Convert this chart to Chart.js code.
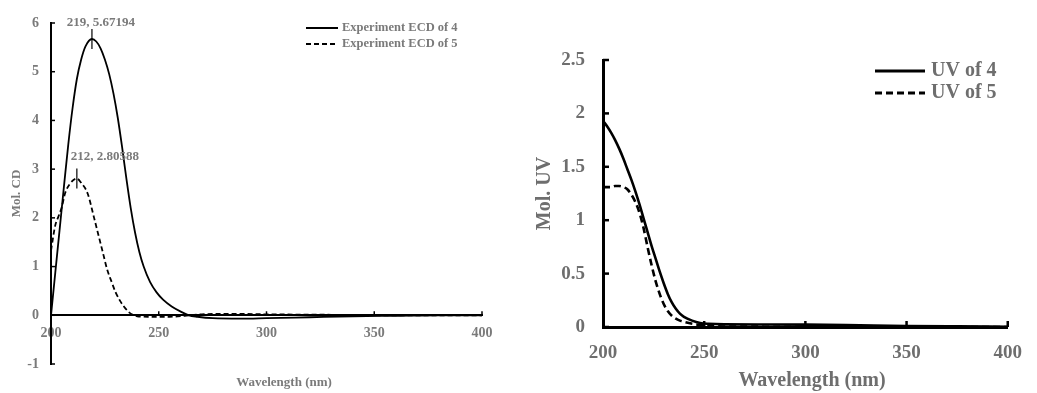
<!DOCTYPE html>
<html>
<head>
<meta charset="utf-8">
<script src="https://cdn.jsdelivr.net/npm/chart.js@4.4.1/dist/chart.umd.min.js"></script>
<style>
body{margin:0;background:#fff;width:1037px;height:393px;overflow:hidden;position:relative}
#ecd{position:absolute;left:0;top:0}
#uv{position:absolute;left:520px;top:0}
</style>
</head>
<body>
<canvas id="ecd" width="520" height="393"></canvas>
<canvas id="uv" width="517" height="393"></canvas>
<script>
// ECD spectra (left panel)
const ecdWave4 = [200, 202, 204, 206, 208, 210, 212, 214, 216, 219, 221, 223, 225, 227, 229, 231, 233, 235, 237, 239, 241, 243, 246, 249, 252, 256, 260, 264, 268, 275, 288, 300, 320, 340, 360, 380, 400]
const ecdVal4 = [0, 0.88, 1.76, 2.64, 3.5, 4.25, 4.85, 5.25, 5.52, 5.67194, 5.62, 5.48, 5.25, 4.95, 4.55, 4.05, 3.45, 2.8, 2.2, 1.7, 1.3, 1.0, 0.68, 0.47, 0.32, 0.18, 0.08, 0, -0.03, -0.06, -0.07, -0.06, -0.04, -0.02, -0.01, 0, 0]
const ecdWave5 = [200, 202, 203.4, 205, 206.5, 208.8, 212, 214, 217, 220, 222, 224, 226, 228, 230, 232, 234, 236, 238, 240, 245, 255, 262, 270, 285, 300, 330, 360, 400]
const ecdVal5 = [1.33, 1.85, 2.02, 2.22, 2.5, 2.7, 2.80588, 2.72, 2.5, 2.0, 1.65, 1.3, 0.95, 0.7, 0.47, 0.3, 0.17, 0.07, 0.01, -0.02, -0.03, -0.03, -0.01, 0.02, 0.03, 0.02, 0.01, 0, 0]

// UV spectra (right panel)
const uvWave4 = [200, 202, 204, 206, 208, 210, 212, 214, 216, 218, 220, 222, 224, 226, 228, 230, 232, 234, 236, 238, 240, 244, 248, 252, 260, 280, 300, 320, 350, 375, 400]
const uvVal4 = [1.93, 1.88, 1.82, 1.75, 1.67, 1.58, 1.48, 1.38, 1.27, 1.15, 1.02, 0.89, 0.76, 0.64, 0.52, 0.41, 0.31, 0.23, 0.17, 0.125, 0.095, 0.06, 0.038, 0.03, 0.025, 0.024, 0.022, 0.018, 0.01, 0.006, 0.003]
const uvWave5 = [200, 202, 204, 206, 208, 210, 212, 214, 216, 218, 220, 222, 224, 226, 228, 230, 232, 234, 236, 238, 240, 245, 250, 255, 260, 280, 300, 350, 400]
const uvVal5 = [1.31, 1.31, 1.31, 1.32, 1.32, 1.31, 1.29, 1.24, 1.17, 1.07, 0.93, 0.75, 0.58, 0.43, 0.31, 0.215, 0.15, 0.105, 0.078, 0.06, 0.048, 0.027, 0.015, 0.008, 0.005, 0.003, 0.002, 0, 0]

const ecdLabels = ['Experiment ECD of 4', 'Experiment ECD of 5']
const uvLabels = ['UV of 4', 'UV of 5']
// peaks to annotate: [series index, wavelength]
const ecdPeaks = [[0, 219], [1, 212]]

function zip(xs, ys){
    return xs.map((x, i) => ({x: x, y: ys[i]}))
}

//plugin for inward ticks, axis titles, legend and peak labels
const decor = {
    id: 'decor',
    afterDraw(chart, args, o){
        const ctx = chart.ctx
        const a = chart.chartArea
        const xs = chart.scales.x, ys = chart.scales.y
        const base = ys.getPixelForValue(0)
        ctx.save()
        ctx.strokeStyle = '#000'
        ctx.lineWidth = o.tickWidth
        ys.ticks.forEach(t => {
            const p = ys.getPixelForValue(t.value)
            ctx.beginPath(); ctx.moveTo(a.left, p); ctx.lineTo(a.left + o.tickLen, p); ctx.stroke()
        })
        xs.ticks.forEach((t, i) => {
            if (i === 0) return
            const p = xs.getPixelForValue(t.value)
            ctx.beginPath(); ctx.moveTo(p, base); ctx.lineTo(p, base - o.tickLen); ctx.stroke()
        })
        // axis titles
        ctx.fillStyle = o.color
        ctx.font = o.titleFont
        ctx.textAlign = 'center'
        ctx.textBaseline = 'middle'
        ctx.fillText(o.xTitle, o.xTitlePos[0], o.xTitlePos[1])
        ctx.save()
        ctx.translate(o.yTitlePos[0], (a.top + a.bottom) / 2)
        ctx.rotate(-Math.PI / 2)
        ctx.fillText(o.yTitle, 0, 0)
        ctx.restore()
        // legend
        const lg = o.legend
        ctx.font = lg.font
        ctx.textAlign = 'left'
        chart.data.datasets.forEach((ds, i) => {
            const y = lg.y + i * lg.row
            ctx.strokeStyle = '#000'
            ctx.lineWidth = lg.lineWidth
            ctx.setLineDash(ds.borderDash || [])
            ctx.beginPath(); ctx.moveTo(lg.x, y); ctx.lineTo(lg.x + lg.len, y); ctx.stroke()
            ctx.setLineDash([])
            ctx.fillText(ds.label, lg.x + lg.len + lg.gap, y)
        })
        // peak labels
        ;(o.peaks || []).forEach((pk, k) => {
            const ds = chart.data.datasets[pk[0]]
            const idx = ds.data.findIndex(d => d.x === pk[1])
            const el = chart.getDatasetMeta(pk[0]).data[idx]
            const off = o.peakOffsets[k]
            ctx.strokeStyle = '#000'
            ctx.lineWidth = 1.2
            ctx.beginPath(); ctx.moveTo(el.x, el.y - 10); ctx.lineTo(el.x, el.y + 10); ctx.stroke()
            ctx.font = o.peakFont
            ctx.textAlign = 'center'
            ctx.fillText(pk[1] + ', ' + ds.data[idx].y, el.x + off[0], el.y + off[1])
        })
        ctx.restore()
    }
}

function lineSet(label, pts, width, dash){
    return {
        label: label,
        data: pts,
        borderColor: '#000',
        borderWidth: width,
        borderDash: dash,
        pointRadius: 0,
        fill: false,
        tension: 0.4,
        cubicInterpolationMode: 'monotone'
    }
}

const plainNum = v => String(v)

// left chart: ECD
new Chart(document.getElementById('ecd'), {
    type: 'line',
    data: {
        datasets: [
            lineSet(ecdLabels[0], zip(ecdWave4, ecdVal4), 1.8, []),
            lineSet(ecdLabels[1], zip(ecdWave5, ecdVal5), 1.8, [5, 3])
        ]
    },
    options: {
        responsive: false,
        animation: false,
        devicePixelRatio: 1,
        layout: {padding: {left: 0, top: 23, right: 38, bottom: 29}},
        plugins: {
            legend: {display: false},
            tooltip: {enabled: false},
            decor: {
                tickLen: 4, tickWidth: 1.5, color: '#7a7a7a',
                titleFont: 'bold 13px "Liberation Serif"',
                xTitle: 'Wavelength (nm)', xTitlePos: [284, 383],
                yTitle: 'Mol. CD', yTitlePos: [17],
                legend: {x: 306, y: 28, row: 16, len: 32, gap: 4, lineWidth: 2, font: 'bold 12.5px "Liberation Serif"'},
                peaks: ecdPeaks, peakOffsets: [[9, -16], [28, -22]],
                peakFont: 'bold 13px "Liberation Serif"'
            }
        },
        scales: {
            x: {
                type: 'linear', min: 200, max: 400,
                position: {y: 0},
                ticks: {stepSize: 50, padding: 10, color: '#7a7a7a', callback: plainNum, font: {family: 'Liberation Serif', weight: 'bold', size: 14}},
                grid: {drawOnChartArea: false, drawTicks: false},
                border: {color: '#000', width: 2}
            },
            y: {
                min: -1, max: 6,
                afterFit: s => { s.width = 51 },
                ticks: {stepSize: 1, padding: 12, color: '#7a7a7a', callback: plainNum, font: {family: 'Liberation Serif', weight: 'bold', size: 14}},
                grid: {drawOnChartArea: false, drawTicks: false},
                border: {color: '#000', width: 2}
            }
        }
    },
    plugins: [decor]
})

// right chart: UV
new Chart(document.getElementById('uv'), {
    type: 'line',
    data: {
        datasets: [
            lineSet(uvLabels[0], zip(uvWave4, uvVal4), 2.6, []),
            lineSet(uvLabels[1], zip(uvWave5, uvVal5), 2.6, [7, 4])
        ]
    },
    options: {
        responsive: false,
        animation: false,
        devicePixelRatio: 1,
        layout: {padding: {left: 0, top: 60, right: 16, bottom: 0}},
        plugins: {
            legend: {display: false},
            tooltip: {enabled: false},
            decor: {
                tickLen: 6, tickWidth: 2.5, color: '#6e6e6e',
                titleFont: 'bold 20px "Liberation Serif"',
                xTitle: 'Wavelength (nm)', xTitlePos: [292, 381],
                yTitle: 'Mol. UV', yTitlePos: [25],
                legend: {x: 355, y: 71, row: 22, len: 50, gap: 6, lineWidth: 3, font: 'bold 20px "Liberation Serif"'}
            }
        },
        scales: {
            x: {
                type: 'linear', min: 200, max: 400,
                afterFit: s => { s.height = 66 },
                ticks: {stepSize: 50, padding: 15, color: '#6e6e6e', callback: plainNum, font: {family: 'Liberation Serif', weight: 'bold', size: 19}},
                grid: {drawOnChartArea: false, drawTicks: false},
                border: {color: '#000', width: 3}
            },
            y: {
                min: 0, max: 2.5,
                afterFit: s => { s.width = 83 },
                ticks: {stepSize: 0.5, padding: 18, color: '#6e6e6e', callback: plainNum, font: {family: 'Liberation Serif', weight: 'bold', size: 19}},
                grid: {drawOnChartArea: false, drawTicks: false},
                border: {color: '#000', width: 3}
            }
        }
    },
    plugins: [decor]
})
</script>
</body>
</html>
